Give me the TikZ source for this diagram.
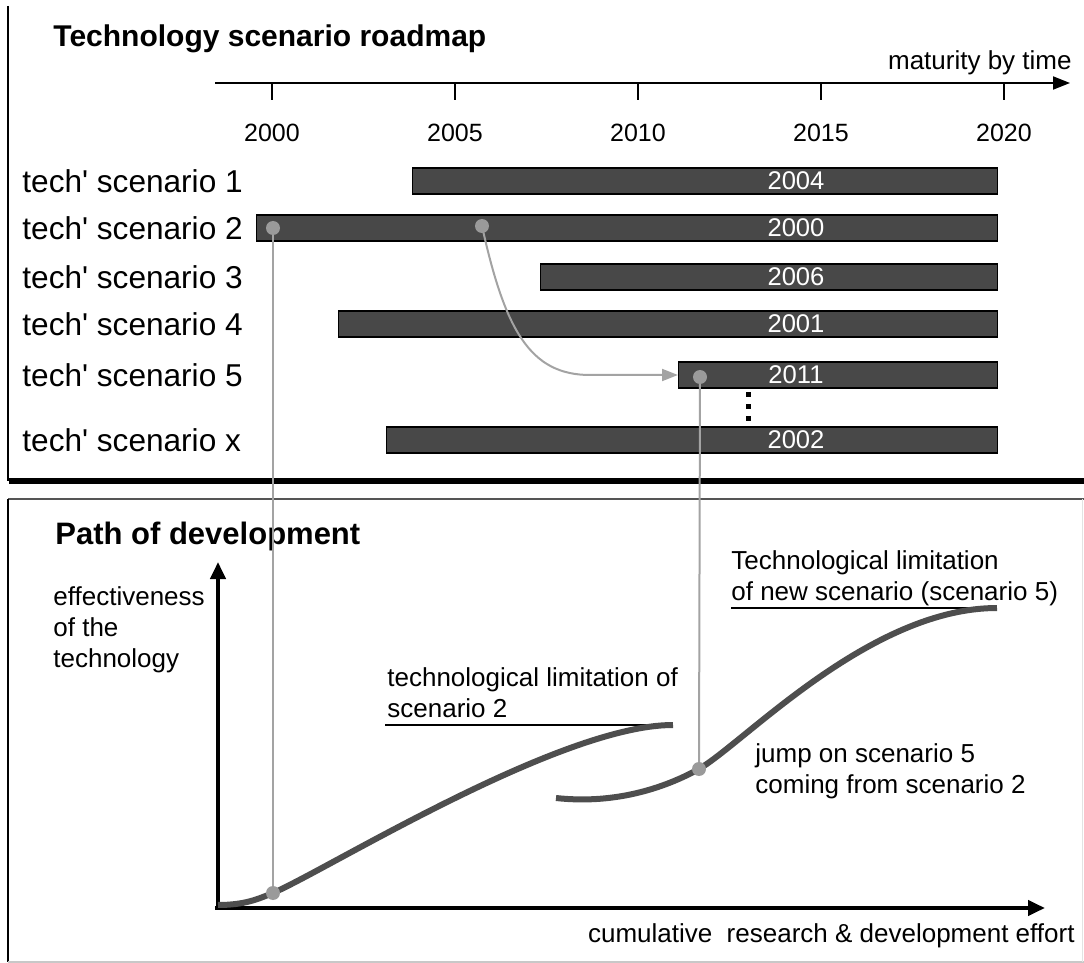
\documentclass[tikz,border=0pt]{standalone}
\usepackage{fontspec}
\setmainfont{Liberation Sans}
\usetikzlibrary{arrows.meta}

\definecolor{barfill}{HTML}{484848}
\definecolor{linkgray}{HTML}{A3A3A3}
\definecolor{dotgray}{HTML}{9A9A9A}
\definecolor{curvegray}{HTML}{4E4E4E}
\definecolor{framegray}{HTML}{555555}
\definecolor{edgegray}{HTML}{C8C8C8}

\begin{document}
\begin{tikzpicture}[x=0.5pt,y=-0.5pt,
    title/.style={font=\fontsize{15}{18}\selectfont\bfseries,inner sep=0pt},
    techlabel/.style={font=\fontsize{15.8}{19}\selectfont,inner sep=0pt,anchor=west},
    yearlabel/.style={font=\fontsize{12.5}{15}\selectfont,inner sep=0pt},
    barlabel/.style={font=\fontsize{12.8}{15}\selectfont,text=white,inner sep=0pt},
    note/.style={font=\fontsize{13}{15.5}\selectfont,align=left,inner sep=0pt},
    bar/.style={draw=black,line width=0.7pt,fill=barfill,minimum height=13pt,inner sep=0pt,anchor=west},
    axis/.style={line width=2pt,-{Triangle[length=8.5pt,width=7.5pt]}},
    timeaxis/.style={line width=1pt,-{Triangle[length=8.5pt,width=6.5pt]}},
    link/.style={draw=linkgray,line width=1pt},
    gdot/.style={circle,fill=dotgray,minimum size=7pt,inner sep=0pt},
    scurve/.style={draw=curvegray,line width=3pt},
    limit/.style={draw=black,line width=1pt}]

    \useasboundingbox (0,0) rectangle (1084,963);

    \draw[line width=1pt] (8,6) -- (8,481);
    \draw[line width=3pt] (9,481) -- (1084,481);
    \draw[line width=1pt,framegray] (8,499) -- (1084,499);
    \draw[line width=1pt] (8,499) -- (8,962);
    \draw[line width=0.8pt,edgegray] (8,962) -- (1084,962);
    \draw[line width=0.5pt,edgegray!50] (1082,499) -- (1082,962);

    \node[title,anchor=base west] (roadmap) at (53,47) {Technology scenario roadmap};

    \coordinate (t0) at (215,83);
    \coordinate (t1) at (1070,83);
    \draw[timeaxis] (t0) -- (t1);
    \node[note,anchor=base east] (maturity) at (1072,70) {maturity by time};

    \foreach \i in {0,...,4} {
        \pgfmathsetmacro\tx{272+183*\i}
        \pgfmathtruncatemacro\yr{2000+5*\i}
        \draw[line width=1pt] (\tx,83) -- (\tx,100);
        \node[yearlabel] (yr\yr) at (\tx,133) {\yr};
    }

    \foreach \n/\xs/\yc/\yr in {1/412/181/2004,2/256/228/2000,3/540/277/2006,4/338/324/2001,5/678/375/2011,x/386/440/2002} {
        \pgfmathsetmacro\bw{(997-\xs)*0.5}
        \node[bar,minimum width=\bw pt] (bar\n) at (\xs,\yc) {};
        \node[barlabel] (start\n) at (796,\yc) {\yr};
        \node[techlabel] (tech\n) at (22,\yc) {tech\textquotesingle{} scenario \n};
    }

    \foreach \y in {395,407,419}
        \fill (745.5,\y-2.5) rectangle (750.5,\y+2.5);

    \node[title,font=\fontsize{15.5}{18}\selectfont\bfseries,anchor=base west] (path) at (55,545) {Path of development};

    \coordinate (origin) at (218,908);
    \coordinate (xstart) at (215,908);
    \coordinate (yend) at (218,562);
    \coordinate (xend) at (1045,908);
    \draw[axis] (origin) -- (yend);
    \draw[axis] (xstart) -- (xend);

    \node[note,anchor=west] (effect) at (53,630) {effectiveness\\of the\\technology};
    \node[note,anchor=west] (limit2) at (387,693) {technological limitation of\\scenario 2};
    \node[note,anchor=west] (limit5) at (731,578) {Technological limitation\\of new scenario (scenario 5)};
    \node[note,anchor=west] (jump) at (755,771) {jump on scenario 5\\coming from scenario 2};
    \node[note,anchor=base east] (effort) at (1075,942) {cumulative~ research \& development effort};

    \draw[limit] (385,725) -- (673,725);
    \draw[limit] (731,608) -- (997,608);

    \coordinate (c1) at (273,893);
    \coordinate (c2) at (699,769);
    \draw[scurve] (218,905) .. controls (245,905) and (258,899) .. (c1)
        .. controls (330,868) and (560,725) .. (673,725);
    \draw[scurve] (556,798) .. controls (620,805) and (670,785) .. (c2)
        .. controls (745,742) and (870,608) .. (997,608);

    \coordinate (p2a) at (273,228);
    \coordinate (p2b) at (482,226);
    \coordinate (p5) at (700,377);
    \draw[link] (p2a) -- (c1);
    \draw[link] (p5) -- (c2);
    \draw[link,-{Triangle[length=8pt,width=6pt]}] (p2b) .. controls (505,330) and (530,375) .. (590,375) -- (bar5.west);

    \foreach \p in {p2a,p2b,p5,c1,c2}
        \node[gdot] (dot\p) at (\p) {};
\end{tikzpicture}
\end{document}
